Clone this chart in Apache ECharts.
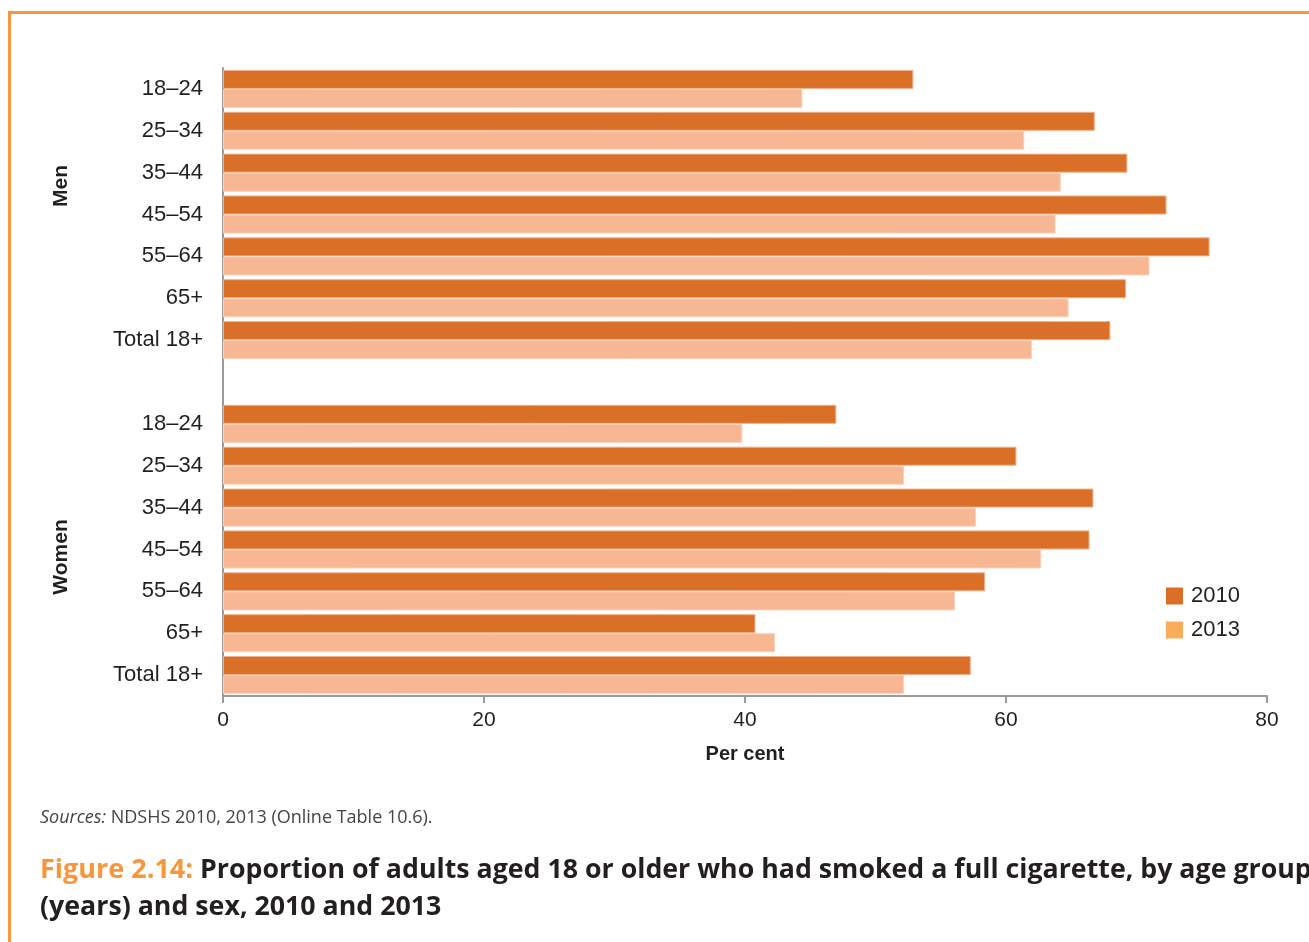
<!DOCTYPE html>
<html>
<head>
<meta charset="utf-8">
<script src="https://cdn.jsdelivr.net/npm/echarts@6/dist/echarts.min.js"></script>
<style>
html,body{margin:0;padding:0;background:#fff;}
#frame{position:absolute;left:8px;top:11px;width:1320px;height:960px;border-top:3px solid #F7963C;border-left:3px solid #F7963C;box-sizing:border-box;}
#chart{position:absolute;left:0;top:0;width:1309px;height:942px;}
</style>
</head>
<body>
<div id="frame"></div>
<div id="chart"></div>
<script>
const ageGroups = ['18–24','25–34','35–44','45–54','55–64','65+','Total 18+'];
const groupNames = ['Men','Women'];
const men2010 = [52.9, 66.8, 69.3, 72.3, 75.6, 69.2, 68.0];
const men2013 = [44.4, 61.4, 64.2, 63.8, 71.0, 64.8, 62.0];
const women2010 = [47.0, 60.8, 66.7, 66.4, 58.4, 40.8, 57.3];
const women2013 = [39.8, 52.2, 57.7, 62.7, 56.1, 42.3, 52.2];
const seriesNames = ['2010','2013'];
const xTicks = [0, 20, 40, 60, 80];

const cats = ageGroups.concat([''], ageGroups);
const d2010 = men2010.concat(['-'], women2010);
const d2013 = men2013.concat(['-'], women2013);

const chart = echarts.init(document.getElementById('chart'), null, {renderer:'canvas'});
const labelFont = 'Liberation Sans, Arial, sans-serif';
chart.setOption({
  animation:false,
  backgroundColor:'transparent',
  grid:{left:223, right:42, top:68, bottom:246, containLabel:false},
  xAxis:{
    type:'value', min:xTicks[0], max:xTicks[xTicks.length-1], interval:20,
    name:'Per cent', nameLocation:'middle', nameGap:48,
    nameTextStyle:{fontFamily:labelFont, fontSize:20, fontWeight:'bold', color:'#231F20'},
    axisLine:{show:true, lineStyle:{color:'#9a9a9a', width:2}},
    axisTick:{show:true, length:7, lineStyle:{color:'#9a9a9a', width:2}},
    axisLabel:{fontFamily:labelFont, fontSize:21, color:'#231F20', margin:14},
    splitLine:{show:false}
  },
  yAxis:{
    type:'category', data:cats, inverse:true,
    axisLine:{show:true, lineStyle:{color:'#9a9a9a', width:2}},
    axisTick:{show:false},
    axisLabel:{fontFamily:labelFont, fontSize:22, color:'#231F20', margin:20}
  },
  legend:{
    orient:'vertical', left:1161, top:580, itemWidth:17, itemHeight:17, itemGap:12,
    icon:'rect',
    textStyle:{fontFamily:labelFont, fontSize:22, color:'#231F20', padding:[0,0,0,3]},
    data:[
      {name:seriesNames[0], itemStyle:{color:'#DA7028', borderWidth:0}},
      {name:seriesNames[1], itemStyle:{color:'#F9AC5C', borderWidth:0}}
    ]
  },
  series:[
    {name:seriesNames[0], type:'bar', data:d2010, barGap:'0%', barCategoryGap:'9%',
     itemStyle:{color:'#DA7028', borderColor:'#F0B08A', borderWidth:1}},
    {name:seriesNames[1], type:'bar', data:d2013, barGap:'0%', barCategoryGap:'9%',
     itemStyle:{color:'#F8B793', borderColor:'#FBD3BC', borderWidth:1}}
  ],
  graphic:[
    {type:'text', x:61, y:186, rotation:Math.PI/2, style:{text:groupNames[0], fontFamily:labelFont, fontSize:21, fontWeight:'bold', fill:'#231F20', align:'center', verticalAlign:'middle'}},
    {type:'text', x:61, y:557, rotation:Math.PI/2, style:{text:groupNames[1], fontFamily:labelFont, fontSize:21, fontWeight:'bold', fill:'#231F20', align:'center', verticalAlign:'middle'}},
    {type:'text', left:40, top:809, style:{
      text:'{i|Sources:}{n| NDSHS 2010, 2013 (Online Table 10.6).}',
      rich:{
        i:{fontFamily:'Open Sans, sans-serif', fontStyle:'italic', fontSize:18, fill:'#444'},
        n:{fontFamily:'Open Sans, sans-serif', fontSize:18, fill:'#444'}
      }}},
    {type:'text', left:40, top:852, style:{
      text:'{o|Figure 2.14:}{b| Proportion of adults aged 18 or older who had smoked a full cigarette, by age group}\n{b|(years) and sex, 2010 and 2013}',
      lineHeight:37,
      rich:{
        o:{fontFamily:'Open Sans, sans-serif', fontWeight:'bold', fontSize:27, fill:'#F7963C', lineHeight:37},
        b:{fontFamily:'Open Sans, sans-serif', fontWeight:'bold', fontSize:26.75, fill:'#231F20', lineHeight:37}
      }}}
  ]
});
</script>
</body>
</html>
